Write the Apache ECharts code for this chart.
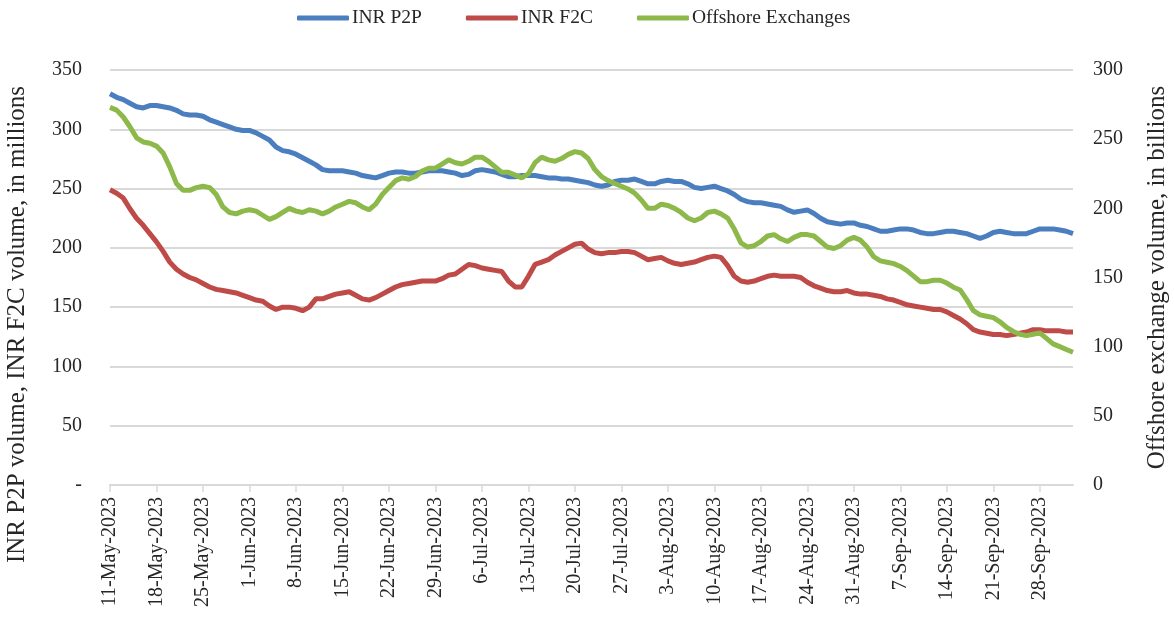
<!DOCTYPE html>
<html>
<head>
<meta charset="utf-8">
<script src="https://cdn.jsdelivr.net/npm/echarts@6/dist/echarts.min.js"></script>
<style>
  html, body { margin: 0; padding: 0; background: #fff; }
  #chart { width: 1174px; height: 621px; }
</style>
</head>
<body>
<div id="chart"></div>
<script>
// daily labels, 11-May-2023 .. 3-Oct-2023
const months = ["Jan", "Feb", "Mar", "Apr", "May", "Jun", "Jul", "Aug", "Sep", "Oct", "Nov", "Dec"];
const dates = [];
for (let d = new Date(Date.UTC(2023, 4, 11)); d <= new Date(Date.UTC(2023, 9, 3)); d.setUTCDate(d.getUTCDate() + 1)) {
  dates.push(d.getUTCDate() + "-" + months[d.getUTCMonth()] + "-" + d.getUTCFullYear());
}

// INR P2P volume, millions (left axis)
const inrP2P = [
  330, 327, 325, 322, 319, 318, 320, 320, 319, 318, 316, 313, 312, 312, 311, 308, 306, 304, 302, 300,
  299, 299, 297, 294, 291, 285, 282, 281, 279, 276, 273, 270, 266, 265, 265, 265, 264, 263, 261, 260,
  259, 261, 263, 264, 264, 263, 263, 264, 265, 265, 265, 264, 263, 261, 262, 265, 266, 265, 264, 262,
  260, 260, 261, 261, 261, 260, 259, 259, 258, 258, 257, 256, 255, 253, 252, 253, 256, 257, 257, 258,
  256, 254, 254, 256, 257, 256, 256, 254, 251, 250, 251, 252, 250, 248, 245, 241, 239, 238, 238, 237,
  236, 235, 232, 230, 231, 232, 229, 225, 222, 221, 220, 221, 221, 219, 218, 216, 214, 214, 215, 216,
  216, 215, 213, 212, 212, 213, 214, 214, 213, 212, 210, 208, 210, 213, 214, 213, 212, 212, 212, 214,
  216, 216, 216, 215, 214, 212
];

// INR F2C volume, millions (left axis)
const inrF2C = [
  249, 246, 242, 233, 225, 219, 212, 205, 197, 188, 182, 178, 175, 173, 170, 167, 165, 164, 163, 162,
  160, 158, 156, 155, 151, 148, 150, 150, 149, 147, 150, 157, 157, 159, 161, 162, 163, 160, 157, 156,
  158, 161, 164, 167, 169, 170, 171, 172, 172, 172, 174, 177, 178, 182, 186, 185, 183, 182, 181, 180,
  172, 167, 167, 176, 186, 188, 190, 194, 197, 200, 203, 204, 199, 196, 195, 196, 196, 197, 197, 196,
  193, 190, 191, 192, 189, 187, 186, 187, 188, 190, 192, 193, 192, 185, 176, 172, 171, 172, 174, 176,
  177, 176, 176, 176, 175, 171, 168, 166, 164, 163, 163, 164, 162, 161, 161, 160, 159, 157, 156, 154,
  152, 151, 150, 149, 148, 148, 146, 143, 140, 136, 131, 129, 128, 127, 127, 126, 127, 128, 129, 131,
  131, 130, 130, 130, 129, 129
];

// Offshore exchange volume, billions (right axis)
const offshore = [
  273, 271, 266, 259, 251, 248, 247, 245, 240, 230, 218, 213, 213, 215, 216, 215, 210, 201, 197, 196,
  198, 199, 198, 195, 192, 194, 197, 200, 198, 197, 199, 198, 196, 198, 201, 203, 205, 204, 201, 199,
  203, 210, 215, 220, 222, 221, 223, 227, 229, 229, 232, 235, 233, 232, 234, 237, 237, 234, 230, 226,
  226, 224, 222, 225, 233, 237, 235, 234, 236, 239, 241, 240, 236, 228, 223, 220, 218, 216, 214, 211,
  206, 200, 200, 203, 202, 200, 197, 193, 191, 193, 197, 198, 196, 193, 185, 175, 172, 173, 176, 180,
  181, 178, 176, 179, 181, 181, 180, 176, 172, 171, 173, 177, 179, 177, 172, 165, 162, 161, 160, 158,
  155, 151, 147, 147, 148, 148, 146, 143, 141, 134, 126, 123, 122, 121, 118, 114, 111, 109, 108, 109,
  110, 106, 102, 100, 98, 96
];

const leftTicks = { min: 0, max: 350, interval: 50 };
const rightTicks = { min: 0, max: 300, interval: 50 };

const font = "'Liberation Serif', 'DejaVu Serif', serif";
const textColor = "#262626";

const chart = echarts.init(document.getElementById("chart"));
chart.setOption({
  animation: false,
  textStyle: { fontFamily: font, color: textColor },
  legend: {
    top: 3,
    left: 292,
    icon: "roundRect",
    itemWidth: 52,
    itemHeight: 5,
    itemGap: 44,
    textStyle: { fontFamily: font, fontSize: 19.5, color: textColor, padding: [0, 0, 0, -2] },
    data: ["INR P2P", "INR F2C", "Offshore Exchanges"]
  },
  grid: { left: 110, right: 101, top: 70, bottom: 136, outerBoundsMode: "none", containLabel: false },
  xAxis: {
    type: "category",
    data: dates,
    boundaryGap: false,
    axisLine: { lineStyle: { color: "#d9d9d9", width: 2 } },
    axisTick: { interval: 6, length: 7, lineStyle: { color: "#d9d9d9", width: 1.5 } },
    axisLabel: {
      interval: 6,
      rotate: 90,
      margin: 12,
      fontFamily: font,
      fontSize: 20,
      color: textColor
    },
    splitLine: { show: false }
  },
  yAxis: [
    {
      type: "value",
      min: leftTicks.min,
      max: leftTicks.max,
      interval: leftTicks.interval,
      name: "INR P2P volume, INR F2C volume, in millions",
      nameLocation: "middle",
      nameRotate: 90,
      nameGap: 80,
      nameTextStyle: { fontFamily: font, fontSize: 25, color: textColor, padding: [0, 94, 0, 0] },
      axisLine: { show: false },
      axisTick: { show: false },
      axisLabel: {
        margin: 28,
        fontFamily: font,
        fontSize: 20,
        color: textColor,
        formatter: v => (v === 0 ? "-" : v)
      },
      splitLine: { lineStyle: { color: "#d9d9d9", width: 2 } }
    },
    {
      type: "value",
      position: "right",
      min: rightTicks.min,
      max: rightTicks.max,
      interval: rightTicks.interval,
      name: "Offshore exchange volume, in billions",
      nameLocation: "middle",
      nameRotate: 90,
      nameGap: 72,
      nameTextStyle: { fontFamily: font, fontSize: 25, color: textColor },
      axisLine: { show: false },
      axisTick: { show: false },
      axisLabel: { margin: 20, fontFamily: font, fontSize: 20, color: textColor },
      splitLine: { show: false }
    }
  ],
  series: [
    {
      name: "INR P2P",
      type: "line",
      data: inrP2P,
      yAxisIndex: 0,
      showSymbol: false,
      symbol: "none",
      lineStyle: { color: "#4A7EBF", width: 5 },
      itemStyle: { color: "#4A7EBF" }
    },
    {
      name: "INR F2C",
      type: "line",
      data: inrF2C,
      yAxisIndex: 0,
      showSymbol: false,
      symbol: "none",
      lineStyle: { color: "#BE4B48", width: 5 },
      itemStyle: { color: "#BE4B48" }
    },
    {
      name: "Offshore Exchanges",
      type: "line",
      data: offshore,
      yAxisIndex: 1,
      showSymbol: false,
      symbol: "none",
      lineStyle: { color: "#8DB84A", width: 5 },
      itemStyle: { color: "#8DB84A" }
    }
  ]
});
</script>
</body>
</html>
